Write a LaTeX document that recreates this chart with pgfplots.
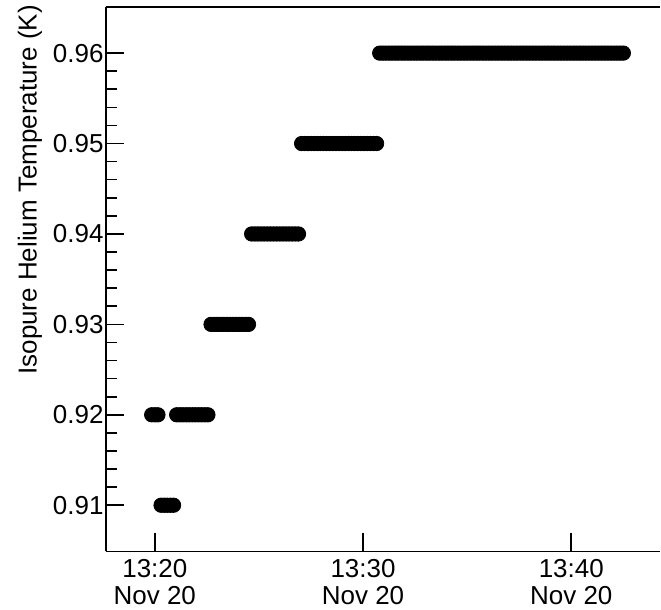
\documentclass[border=0pt]{standalone}
\usepackage{fontspec}
\setmainfont{Liberation Sans}
\usepackage{pgfplots}
\usepackage{pgfplotstable}
\pgfplotsset{compat=1.18}
\pgfplotstableread{
x y
19.85 0.92
20.00 0.92
20.15 0.92
20.30 0.91
20.45 0.91
20.60 0.91
20.75 0.91
20.90 0.91
21.05 0.92
21.20 0.92
21.35 0.92
21.50 0.92
21.65 0.92
21.80 0.92
21.95 0.92
22.10 0.92
22.25 0.92
22.40 0.92
22.55 0.92
22.70 0.93
22.85 0.93
23.00 0.93
23.15 0.93
23.30 0.93
23.45 0.93
23.60 0.93
23.75 0.93
23.90 0.93
24.05 0.93
24.20 0.93
24.35 0.93
24.50 0.93
24.65 0.94
24.80 0.94
24.95 0.94
25.10 0.94
25.25 0.94
25.40 0.94
25.55 0.94
25.70 0.94
25.85 0.94
26.00 0.94
26.15 0.94
26.30 0.94
26.45 0.94
26.60 0.94
26.75 0.94
26.90 0.94
27.05 0.95
27.20 0.95
27.35 0.95
27.50 0.95
27.65 0.95
27.80 0.95
27.95 0.95
28.10 0.95
28.25 0.95
28.40 0.95
28.55 0.95
28.70 0.95
28.85 0.95
29.00 0.95
29.15 0.95
29.30 0.95
29.45 0.95
29.60 0.95
29.75 0.95
29.90 0.95
30.05 0.95
30.20 0.95
30.35 0.95
30.50 0.95
30.65 0.95
30.80 0.96
30.95 0.96
31.10 0.96
31.25 0.96
31.40 0.96
31.55 0.96
31.70 0.96
31.85 0.96
32.00 0.96
32.15 0.96
32.30 0.96
32.45 0.96
32.60 0.96
32.75 0.96
32.90 0.96
33.05 0.96
33.20 0.96
33.35 0.96
33.50 0.96
33.65 0.96
33.80 0.96
33.95 0.96
34.10 0.96
34.25 0.96
34.40 0.96
34.55 0.96
34.70 0.96
34.85 0.96
35.00 0.96
35.15 0.96
35.30 0.96
35.45 0.96
35.60 0.96
35.75 0.96
35.90 0.96
36.05 0.96
36.20 0.96
36.35 0.96
36.50 0.96
36.65 0.96
36.80 0.96
36.95 0.96
37.10 0.96
37.25 0.96
37.40 0.96
37.55 0.96
37.70 0.96
37.85 0.96
38.00 0.96
38.15 0.96
38.30 0.96
38.45 0.96
38.60 0.96
38.75 0.96
38.90 0.96
39.05 0.96
39.20 0.96
39.35 0.96
39.50 0.96
39.65 0.96
39.80 0.96
39.95 0.96
40.10 0.96
40.25 0.96
40.40 0.96
40.55 0.96
40.70 0.96
40.85 0.96
41.00 0.96
41.15 0.96
41.30 0.96
41.45 0.96
41.60 0.96
41.75 0.96
41.90 0.96
42.05 0.96
42.20 0.96
42.35 0.96
42.50 0.96
}\datatable
\begin{document}
\begin{tikzpicture}
\begin{axis}[
  scale only axis,
  width=277.5pt, height=272.5pt,
  xmin=17.65, xmax=44.27,
  ymin=0.9049, ymax=0.9651,
  axis x line=box,
  axis y line=left,
  axis line style={-, line width=0.8pt, black},
  xtick pos=bottom,
  ytick pos=left,
  tick align=inside,
  xtick={20,30,40},
  xticklabels={{13:20\\Nov 20},{13:30\\Nov 20},{13:40\\Nov 20}},
  xticklabel style={align=center, font=\fontsize{13}{13.5}\selectfont, inner sep=2pt, yshift=-2pt},
  ytick={0.91,0.92,0.93,0.94,0.95,0.96},
  minor y tick num=4,
  major tick length=9pt,
  minor tick length=5.5pt,
  every tick/.style={black, line width=0.8pt},
  yticklabel style={font=\fontsize{13}{14}\selectfont, inner sep=1pt,
    /pgf/number format/fixed, /pgf/number format/precision=2,
    /pgf/number format/fixed zerofill},
  /pgf/number format/assume math mode=true,
  ylabel={Isopure Helium Temperature (K)},
  every axis y label/.style={at={(axis description cs:-0.137,0.664)}, rotate=90, anchor=center, inner sep=0pt, font=\fontsize{13}{14}\selectfont},
]
\addplot[only marks, mark=*, mark size=3.6pt, black, mark options={fill=black}] table[x=x,y=y] {\datatable};
\end{axis}
\path ([xshift=-53pt,yshift=3.5pt]current axis.north west);
\path ([yshift=-29pt]current axis.south east);
\end{tikzpicture}
\end{document}
